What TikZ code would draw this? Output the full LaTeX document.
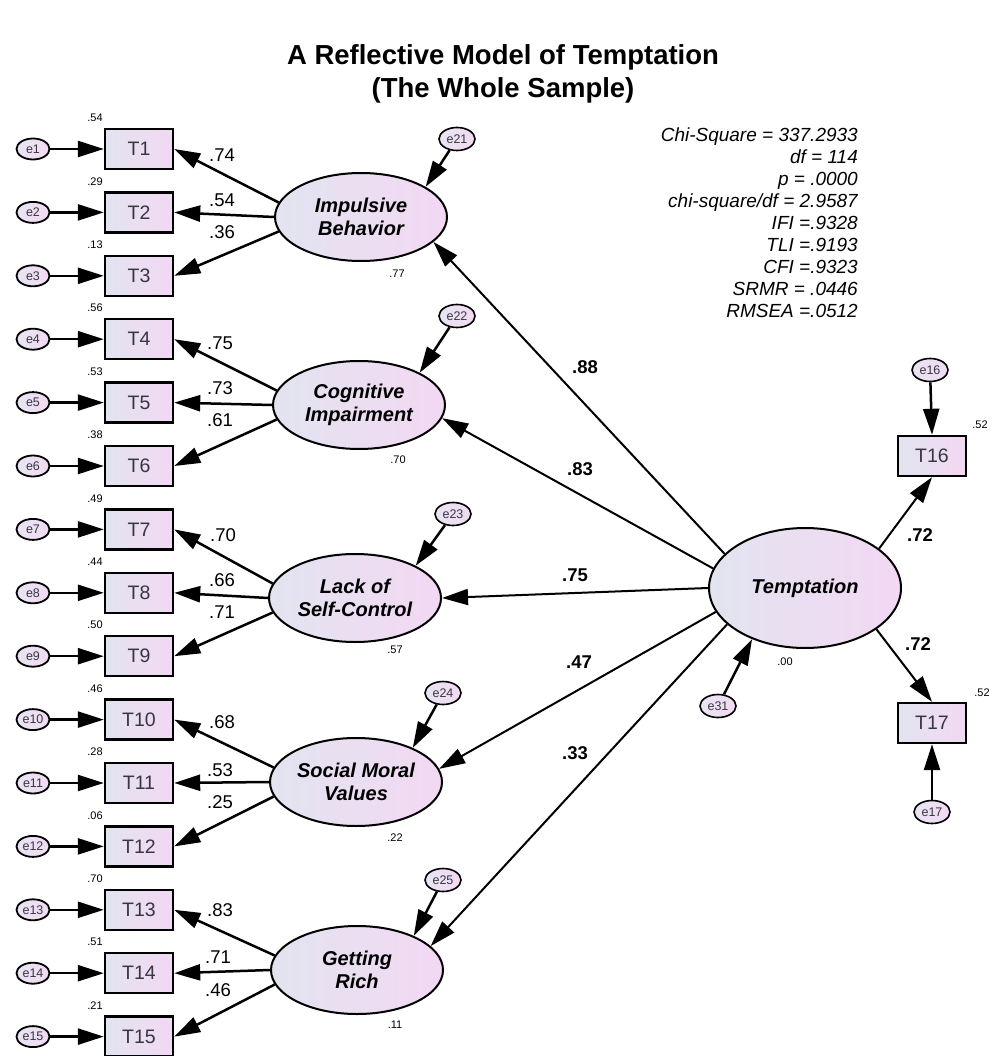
\documentclass[tikz,border=0pt]{standalone}
\usepackage{fontspec}
\setmainfont{Liberation Sans}
\usetikzlibrary{arrows.meta,shapes.geometric}
\definecolor{fillL}{RGB}{226,228,240}
\definecolor{fillR}{RGB}{243,216,243}
\definecolor{errL}{RGB}{232,228,242}
\definecolor{errR}{RGB}{242,218,242}
\definecolor{labgray}{RGB}{55,55,65}
\begin{document}
\begin{tikzpicture}[x=1pt,y=-1pt,
  headtip/.tip={Triangle[length=26pt,width=16pt]},
  obs/.style={draw,line width=2.4pt,minimum width=68pt,minimum height=40pt,inner sep=0pt,
    left color=fillL,right color=fillR,text=labgray,font=\fontsize{19.5}{19.5}\selectfont},
  err/.style={ellipse,draw,line width=1.8pt,minimum width=33pt,minimum height=21pt,inner sep=0pt,
    left color=errL,right color=errR,text=labgray,font=\fontsize{12.5}{13}\selectfont},
  lerr/.style={err,minimum width=36pt,minimum height=23pt,line width=1.6pt},
  lat/.style={ellipse,draw,line width=2pt,minimum width=172pt,minimum height=88pt,inner sep=0pt,
    left color=fillL,right color=fillR,align=center,
    font=\fontsize{20}{23}\selectfont\bfseries\itshape},
  load/.style={line width=2.5pt,-headtip},
  struct/.style={line width=2pt,-headtip},
  num/.style={inner sep=0pt,font=\fontsize{18.5}{18.5}\selectfont},
  coef/.style={inner sep=0pt,font=\fontsize{18.5}{18.5}\selectfont\bfseries},
  sq/.style={inner sep=0pt,font=\fontsize{11}{11}\selectfont},
  title/.style={inner sep=0pt,font=\fontsize{27.5}{27.5}\selectfont\bfseries}
]
\useasboundingbox (0,0) rectangle (998,1056);

% title
\node[title,anchor=base] (t1) at (503,65) {A Reflective Model of Temptation};
\node[title,anchor=base] (t2) at (503,98) {(The Whole Sample)};

% fit statistics
\node[inner sep=0pt,anchor=north east,align=right,
  font=\fontsize{19}{21.9}\selectfont\itshape] (fit) at (858,128)
  {Chi-Square = 337.2933\\ df = 114\\ p = .0000\\ chi-square/df = 2.9587\\
   IFI =.9328\\ TLI =.9193\\ CFI =.9323\\ SRMR = .0446\\ RMSEA =.0512};

% indicators T1--T15 with their error terms and squared multiple correlations
\foreach \i/\rsq in {1/.54,2/.29,3/.13,4/.56,5/.53,6/.38,7/.49,8/.44,9/.50,
                     10/.46,11/.28,12/.06,13/.70,14/.51,15/.21}{
  \pgfmathsetmacro{\yy}{149+63.4*(\i-1)}
  \node[obs] (T\i) at (139,\yy) {T\i};
  \node[err] (e\i) at (33,\yy) {e\i};
  \node[sq] (r\i) at (95,\yy-31) {\rsq};
  \draw[load] (e\i) -- (T\i);
}

% first-order factors
\node[lat] (imp)  at (361,217) {Impulsive\\Behavior};
\node[lat] (cog)  at (359,405) {Cognitive\\Impairment};
\node[lat] (lack) at (355,598) {Lack of\\Self-Control};
\node[lat] (soc)  at (356,782) {Social Moral\\Values};
\node[lat] (rich) at (357,970) {Getting\\Rich};

% second-order factor
\node[lat,minimum width=192pt,minimum height=120pt] (tempt) at (805,588) {Temptation};

% disturbances
\node[lerr] (e21) at (457,139) {e21};
\node[lerr] (e22) at (457,316) {e22};
\node[lerr] (e23) at (453,514) {e23};
\node[lerr] (e24) at (443,693) {e24};
\node[lerr] (e25) at (443,880) {e25};
\node[lerr] (e31) at (718,706) {e31};
\draw[load] (e21) -- (imp.25);
\draw[load] (e22) -- (cog.28);
\draw[load] (e23) -- (lack.28);
\draw[load] (e24) -- (soc.31);
\draw[load] (e25) -- (rich.31);
\draw[load] (e31) -- (tempt.224);

% T16, T17 on the second-order factor
\node[obs] (T16) at (932,456) {T16};
\node[obs] (T17) at (932,723) {T17};
\node[lerr] (e16) at (930,370) {e16};
\node[lerr] (e17) at (932,812) {e17};
\draw[load] (e16) -- (T16.north);
\draw[load] (e17) -- (T17.south);
\draw[struct] (tempt.28) -- (T16.south);
\draw[struct] (tempt.330) -- (T17.north);
\node[coef] (c16) at (920,535) {.72};
\node[coef] (c17) at (918,644) {.72};
\node[sq] (r16) at (980,425) {.52};
\node[sq] (r17) at (982,693) {.52};

% loadings
\draw[load] (imp.170) -- (T1.east);
\draw[load] (imp.180) -- (T2.east);
\draw[load] (imp.190) -- (T3.east);
\draw[load] (cog.170) -- (T4.east);
\draw[load] (cog.180) -- (T5.east);
\draw[load] (cog.190) -- (T6.east);
\draw[load] (lack.170) -- (T7.east);
\draw[load] (lack.180) -- (T8.east);
\draw[load] (lack.190) -- (T9.east);
\draw[load] (soc.170) -- (T10.east);
\draw[load] (soc.180) -- (T11.east);
\draw[load] (soc.190) -- (T12.east);
\draw[load] (rich.170) -- (T13.east);
\draw[load] (rich.180) -- (T14.east);
\draw[load] (rich.190) -- (T15.east);

\node[num] (l1)  at (222,155) {.74};
\node[num] (l2)  at (222,200) {.54};
\node[num] (l3)  at (222,232) {.36};
\node[num] (l4)  at (220,343) {.75};
\node[num] (l5)  at (220,388) {.73};
\node[num] (l6)  at (220,420) {.61};
\node[num] (l7)  at (223,535) {.70};
\node[num] (l8)  at (222,580) {.66};
\node[num] (l9)  at (222,612) {.71};
\node[num] (l10) at (222,722) {.68};
\node[num] (l11) at (220,770) {.53};
\node[num] (l12) at (220,802) {.25};
\node[num] (l13) at (220,910) {.83};
\node[num] (l14) at (218,957) {.71};
\node[num] (l15) at (218,990) {.46};

% structural paths
\draw[struct] (tempt.157) -- (imp.341);
\draw[struct] (tempt.168) -- (cog.351);
\draw[struct] (tempt.180) -- (lack.east);
\draw[struct] (tempt.195) -- (soc.9.5);
\draw[struct] (tempt.205) -- (rich.18);
\node[coef] (g1) at (585,367) {.88};
\node[coef] (g2) at (580,469) {.83};
\node[coef] (g3) at (575,575) {.75};
\node[coef] (g4) at (579,662) {.47};
\node[coef] (g5) at (575,753) {.33};

% squared multiple correlations of the factors
\node[sq] (s1) at (397,274) {.77};
\node[sq] (s2) at (398,460) {.70};
\node[sq] (s3) at (395,650) {.57};
\node[sq] (s4) at (395,838) {.22};
\node[sq] (s5) at (395,1025) {.11};
\node[sq] (s6) at (785,662) {.00};
\end{tikzpicture}
\end{document}
